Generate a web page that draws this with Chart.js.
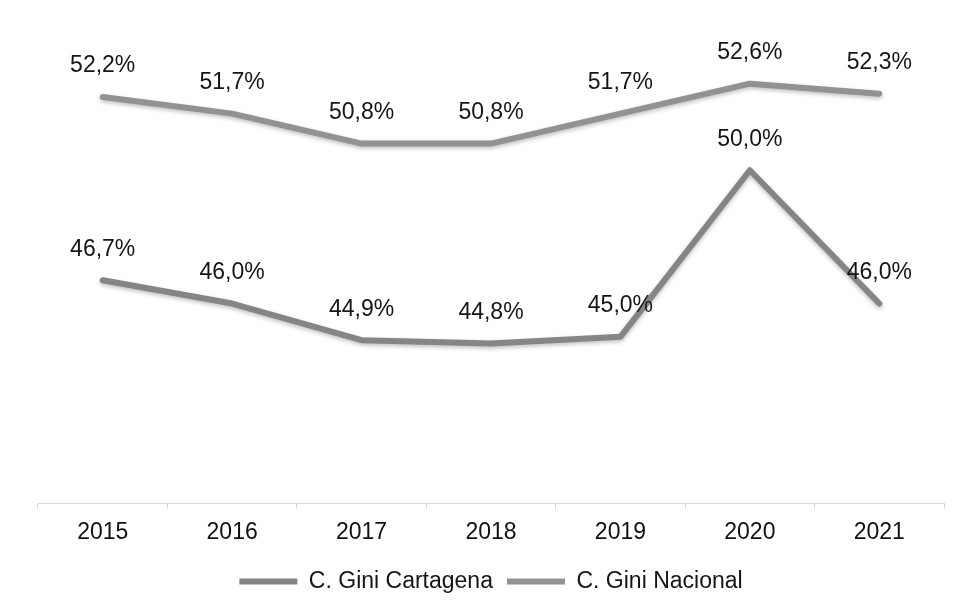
<!DOCTYPE html>
<html>
<head>
<meta charset="utf-8">
<script src="https://cdn.jsdelivr.net/npm/chart.js@4.4.1/dist/chart.umd.min.js"></script>
<style>
  html, body { margin: 0; padding: 0; background: #fff; }
  #wrap { width: 960px; height: 615px; position: relative; }
</style>
</head>
<body>
<div id="wrap"><canvas id="c" width="960" height="615"></canvas></div>
<script>
const years = ['2015', '2016', '2017', '2018', '2019', '2020', '2021'];
const giniCartagena = [46.7, 46.0, 44.9, 44.8, 45.0, 50.0, 46.0];
const giniNacional = [52.2, 51.7, 50.8, 50.8, 51.7, 52.6, 52.3];
const seriesNames = ['C. Gini Cartagena', 'C. Gini Nacional'];

const FONT = "'Liberation Sans', Arial, sans-serif";

const shadowPlugin = {
  id: 'shadow',
  beforeDatasetDraw(chart) {
    const ctx = chart.ctx;
    ctx.save();
    ctx.shadowColor = 'rgba(0,0,0,0.25)';
    ctx.shadowBlur = 4;
    ctx.shadowOffsetY = 2;
  },
  afterDatasetDraw(chart) {
    chart.ctx.restore();
  }
};

const labelPlugin = {
  id: 'valueLabels',
  afterDatasetsDraw(chart) {
    const ctx = chart.ctx;
    ctx.save();
    ctx.font = '23px ' + FONT;
    ctx.fillStyle = '#151515';
    ctx.textAlign = 'center';
    ctx.textBaseline = 'middle';
    chart.data.datasets.forEach((ds, i) => {
      const meta = chart.getDatasetMeta(i);
      meta.data.forEach((pt, j) => {
        const txt = ds.data[j].toFixed(1).replace('.', ',') + '%';
        ctx.fillText(txt, pt.x, pt.y - 31);
      });
    });
    ctx.restore();
  }
};

new Chart(document.getElementById('c'), {
  type: 'line',
  data: {
    labels: years,
    datasets: [
      {
        label: seriesNames[0],
        data: giniCartagena,
        borderColor: '#858585',
        backgroundColor: '#858585',
        borderWidth: 6,
        pointRadius: 0,
        tension: 0,
        borderCapStyle: 'round',
        borderJoinStyle: 'round'
      },
      {
        label: seriesNames[1],
        data: giniNacional,
        borderColor: '#929292',
        backgroundColor: '#929292',
        borderWidth: 6,
        pointRadius: 0,
        tension: 0,
        borderCapStyle: 'round',
        borderJoinStyle: 'round'
      }
    ]
  },
  options: {
    responsive: false,
    animation: false,
    devicePixelRatio: 1,
    layout: { padding: { left: 38, right: 16, top: 37, bottom: 12 } },
    plugins: {
      legend: {
        position: 'bottom',
        labels: {
          font: { family: FONT, size: 23 },
          color: '#151515',
          boxWidth: 58,
          boxHeight: 6,
          padding: 14,
          generateLabels(chart) {
            return chart.data.datasets.map((ds, i) => ({
              text: ds.label,
              fillStyle: ds.borderColor,
              strokeStyle: ds.borderColor,
              lineWidth: 0,
              hidden: false,
              datasetIndex: i,
              fontColor: '#151515'
            }));
          }
        }
      },
      tooltip: { enabled: false }
    },
    scales: {
      x: {
        offset: true,
        grid: {
          display: true,
          offset: true,
          drawOnChartArea: false,
          drawTicks: true,
          tickLength: 5,
          color: '#d6d6d6'
        },
        border: { display: true, color: '#d6d6d6', width: 1 },
        ticks: {
          font: { family: FONT, size: 23 },
          color: '#111',
          padding: 10
        }
      },
      y: {
        display: false,
        min: 40,
        max: 54
      }
    }
  },
  plugins: [shadowPlugin, labelPlugin]
});
</script>
</body>
</html>
